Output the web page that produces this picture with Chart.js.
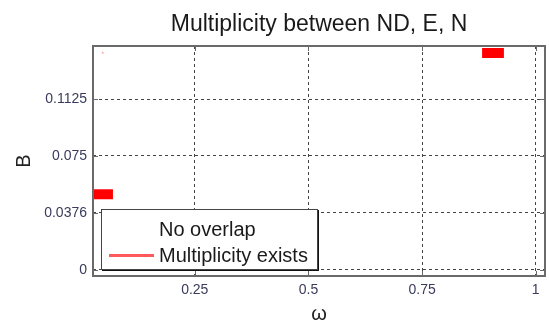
<!DOCTYPE html>
<html>
<head>
<meta charset="utf-8">
<script src="https://cdn.jsdelivr.net/npm/chart.js@4/dist/chart.umd.min.js"></script>
<style>
  html, body { margin: 0; padding: 0; background: #fff; }
  #wrap { position: relative; width: 549px; height: 322px; }
  #legendBox {
    position: absolute; left: 101px; top: 209px; width: 215px; height: 59px;
    background: #fff; border: 1px solid #444; box-shadow: 1px 1px 0 #111;
    font-family: "Liberation Sans", Arial, sans-serif; font-size: 20px; color: #1a1a1a;
  }
  .leg-row { position: absolute; left: 0; height: 24px; line-height: 24px; white-space: nowrap; }
  .leg-row .txt { position: absolute; left: 57px; }
  .leg-row .swatch { position: absolute; left: 7px; top: 11px; width: 45px; height: 3px; }
</style>
</head>
<body>
<div id="wrap">
  <canvas id="chart" width="549" height="322"></canvas>
  <div id="legendBox"></div>
</div>
<script>
// Multiplicity between ND, E, N

// Rango de ejes
const xMin = 0.0261, xMax = 1.0204;
const yMin = -0.004, yMax = 0.1474;

// Ticks
const xTickValues = [0.25, 0.5, 0.75, 1];
const xTickLabels = ['0.25', '0.5', '0.75', '1'];
const yTickValues = [0, 0.0375, 0.075, 0.1125];
const yTickLabels = ['0', '0.0376', '0.075', '0.1125'];

// Tramos con multiplicidad (ω inicio, ω fin, B)
const multStartW = [0.020, 0.882];
const multEndW = [0.070, 0.930];
const multB = [0.0498, 0.1428];

// Punto aislado
const speckW = [0.0476];
const speckB = [0.1430];

// Leyenda
const legendLabels = ['No overlap', 'Multiplicity exists'];
const legendColors = [null, '#ff5a5a'];

const FONT = '"Liberation Sans", Arial, sans-serif';
const TICK_COLOR = '#3a3a5c';

function buildDatasets() {
  const ds = multB.map((b, i) => ({
    label: 'Multiplicity exists',
    data: [{ x: multStartW[i], y: b }, { x: multEndW[i], y: b }],
    borderColor: '#ff0000',
    borderWidth: 10,
    borderCapStyle: 'butt',
    pointRadius: 0,
    fill: false
  }));
  ds.push({
    label: 'speck',
    data: speckW.map((w, i) => ({ x: w, y: speckB[i] })),
    showLine: false,
    pointRadius: 1,
    pointBorderWidth: 0,
    pointBackgroundColor: '#ffa8a8'
  });
  return ds;
}

// Marco del área + marcas de tick hacia dentro (estilo MATLAB)
const framePlugin = {
  id: 'frame',
  afterDraw(chart) {
    const { ctx, chartArea: a, scales } = chart;
    const len = 5;
    ctx.save();
    ctx.strokeStyle = '#6a6a6a';
    ctx.lineWidth = 1;
    ctx.beginPath();
    scales.x.ticks.forEach(t => {
      const px = Math.round(scales.x.getPixelForValue(t.value)) + 0.5;
      ctx.moveTo(px, a.bottom); ctx.lineTo(px, a.bottom - len);
      ctx.moveTo(px, a.top); ctx.lineTo(px, a.top + len);
    });
    scales.y.ticks.forEach(t => {
      const py = Math.round(scales.y.getPixelForValue(t.value)) + 0.5;
      ctx.moveTo(a.left, py); ctx.lineTo(a.left + len, py);
      ctx.moveTo(a.right, py); ctx.lineTo(a.right - len, py);
    });
    ctx.stroke();
    ctx.lineWidth = 2;
    ctx.strokeRect(a.left, a.top, a.right - a.left, a.bottom - a.top);
    ctx.restore();
  }
};

function fillLegend() {
  const box = document.getElementById('legendBox');
  legendLabels.forEach((lab, i) => {
    const row = document.createElement('div');
    row.className = 'leg-row';
    row.style.top = (7 + i * 26) + 'px';
    if (legendColors[i]) {
      const sw = document.createElement('span');
      sw.className = 'swatch';
      sw.style.background = legendColors[i];
      row.appendChild(sw);
    }
    const t = document.createElement('span');
    t.className = 'txt';
    t.textContent = lab;
    row.appendChild(t);
    box.appendChild(row);
  });
}

function drawChart() {
  const ctx = document.getElementById('chart');
  new Chart(ctx, {
    type: 'line',
    data: { datasets: buildDatasets() },
    plugins: [framePlugin],
    options: {
      responsive: false,
      animation: false,
      layout: { padding: { top: 0, right: 3, left: 0, bottom: 0 } },
      plugins: {
        legend: { display: false },
        tooltip: { enabled: false },
        title: {
          display: true,
          text: 'Multiplicity between ND, E, N',
          fullSize: false,
          color: '#1a1a1a',
          font: { family: FONT, size: 23, weight: 'normal' },
          padding: { top: 11, bottom: 7.4 }
        }
      },
      scales: {
        x: {
          type: 'linear',
          min: xMin, max: xMax,
          afterFit: s => { s.height = 46; },
          afterBuildTicks: s => { s.ticks = xTickValues.map(v => ({ value: v })); },
          ticks: {
            callback: v => xTickLabels[xTickValues.indexOf(v)],
            color: TICK_COLOR, padding: 6, maxRotation: 0, autoSkip: false,
            font: { family: FONT, size: 14 }
          },
          grid: { color: '#444', lineWidth: 1, drawTicks: false },
          border: { display: false, dash: [3, 3] },
          title: {
            display: true, text: 'ω', color: '#222',
            font: { family: FONT, size: 20, lineHeight: 0.8 }, padding: 0
          }
        },
        y: {
          type: 'linear',
          min: yMin, max: yMax,
          afterFit: s => { s.width = 93; },
          afterBuildTicks: s => { s.ticks = yTickValues.map(v => ({ value: v })); },
          ticks: {
            callback: v => yTickLabels[yTickValues.indexOf(v)],
            color: TICK_COLOR, padding: 6, autoSkip: false,
            font: { family: FONT, size: 14 }
          },
          grid: { color: '#444', lineWidth: 1, drawTicks: false },
          border: { display: false, dash: [3, 3] },
          title: {
            display: true, text: 'B', color: '#222',
            font: { family: FONT, size: 20, lineHeight: 1.2 }, padding: { top: 12, bottom: 0 }
          }
        }
      }
    }
  });
}

window.addEventListener('DOMContentLoaded', () => {
  fillLegend();
  drawChart();
});
</script>
</body>
</html>
